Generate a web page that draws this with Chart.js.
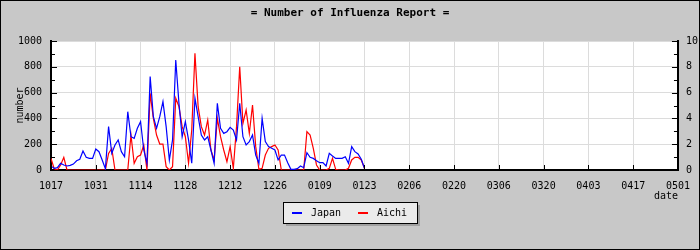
<!DOCTYPE html>
<html>
<head>
<meta charset="utf-8">
<script src="https://cdn.jsdelivr.net/npm/chart.js@4.4.1/dist/chart.umd.min.js"></script>
<style>
  html, body { margin: 0; padding: 0; background: #c8c8c8; }
  #wrap { width: 700px; height: 250px; position: relative; }
</style>
</head>
<body>
<div id="wrap"><canvas id="c" width="700" height="250"></canvas></div>
<script>
const TITLE = '= Number of Influenza Report =';
const tickLabels = ['1017','1031','1114','1128','1212','1226','0109','0123','0206','0220','0306','0320','0403','0417','0501'];
const seriesNames = ['Japan', 'Aichi'];
// daily values starting 10/17
const japan = [30,13,18,52,39,31,36,46,72,83,147,98,90,90,163,142,78,10,336,129,194,233,142,103,452,258,245,323,375,155,52,724,413,323,413,530,336,78,233,853,517,258,375,233,52,556,413,271,233,258,155,52,517,323,284,297,331,310,233,517,258,194,220,271,116,52,400,220,181,168,155,78,116,116,57,5,5,10,31,18,134,98,90,72,57,57,31,129,109,90,90,90,103,52,181,142,124,83,13];
const aichi = [90,10,0,39,98,0,0,0,0,0,0,0,0,0,0,0,0,0,129,168,0,0,0,0,0,271,52,103,116,194,0,594,400,271,201,201,26,0,26,556,491,336,258,52,310,904,491,336,271,388,155,78,400,258,155,65,181,13,336,801,362,465,284,504,181,5,13,116,168,181,194,155,0,0,0,0,0,0,0,0,297,271,168,39,0,0,0,13,90,5,0,0,0,13,78,98,98,78,13];
const leftMax = 1000, leftStep = 200, leftMinor = 100;
const rightMax = 10, rightStep = 2, rightMinor = 1;
const dayMax = 196, dayStep = 14;
const colors = ['#0000ff', '#ff0000'];
const FONT = '"DejaVu Sans Mono", monospace';

const decor = {
  id: 'decor',
  beforeDraw(chart) {
    const ctx = chart.ctx;
    ctx.save();
    ctx.fillStyle = '#c8c8c8';
    ctx.fillRect(0, 0, chart.width, chart.height);
    const a = chart.chartArea;
    ctx.fillStyle = '#ffffff';
    ctx.fillRect(a.left, a.top, a.right - a.left, a.bottom - a.top);
    ctx.restore();
  },
  afterDraw(chart) {
    const ctx = chart.ctx;
    const a = chart.chartArea;
    const y = chart.scales.y, y2 = chart.scales.y2, x = chart.scales.x;
    ctx.save();
    ctx.strokeStyle = '#000';
    ctx.lineWidth = 1;
    ctx.beginPath();
    for (let v = 0; v <= leftMax; v += leftMinor) {
      const p = Math.round(y.getPixelForValue(v)) + 0.5;
      const len = (v % leftStep === 0) ? 6 : 4;
      ctx.moveTo(a.left, p); ctx.lineTo(a.left + len, p);
    }
    for (let v = 0; v <= rightMax; v += rightMinor) {
      const p = Math.round(y2.getPixelForValue(v)) + 0.5;
      const len = (v % rightStep === 0) ? 6 : 4;
      ctx.moveTo(a.right, p); ctx.lineTo(a.right - len, p);
    }
    for (let d = 0; d <= dayMax; d += dayStep) {
      const p = Math.round(x.getPixelForValue(d)) + 0.5;
      ctx.moveTo(p, a.bottom); ctx.lineTo(p, a.bottom - 5);
    }
    ctx.stroke();

    // title
    ctx.fillStyle = '#000';
    ctx.font = 'bold 11px ' + FONT;
    ctx.textAlign = 'center';
    ctx.textBaseline = 'middle';
    ctx.fillText(TITLE, 350, 13);

    // legend
    const lx = 283, ly = 202, lw = 134, lh = 21;
    ctx.fillStyle = '#a0a0a0';
    ctx.fillRect(lx + 3, ly + 3, lw, lh);
    ctx.fillStyle = '#ebebeb';
    ctx.fillRect(lx, ly, lw, lh);
    ctx.strokeStyle = '#000';
    ctx.strokeRect(lx + 0.5, ly + 0.5, lw, lh);
    ctx.font = '10px ' + FONT;
    ctx.textAlign = 'left';
    const items = [[292, 311], [358, 377]];
    chart.data.datasets.forEach((ds, i) => {
      ctx.strokeStyle = ds.borderColor;
      ctx.lineWidth = 2;
      ctx.beginPath();
      ctx.moveTo(items[i][0], ly + 11); ctx.lineTo(items[i][0] + 10, ly + 11);
      ctx.stroke();
      ctx.fillStyle = '#000';
      ctx.fillText(ds.label, items[i][1], ly + 11);
    });

    // outer border
    ctx.strokeStyle = '#000';
    ctx.lineWidth = 1;
    ctx.strokeRect(0.5, 0.5, chart.width - 1, chart.height - 1);
    ctx.restore();
  }
};

new Chart(document.getElementById('c'), {
  type: 'line',
  data: {
    datasets: [
      { label: seriesNames[0], data: japan.map((v, i) => ({x: i, y: v})), borderColor: colors[0], borderWidth: 1.2, pointRadius: 0, tension: 0, fill: false, yAxisID: 'y' },
      { label: seriesNames[1], data: aichi.map((v, i) => ({x: i, y: v})), borderColor: colors[1], borderWidth: 1.2, pointRadius: 0, tension: 0, fill: false, yAxisID: 'y' }
    ]
  },
  options: {
    responsive: false,
    animation: false,
    devicePixelRatio: 1,
    layout: { padding: { top: 41, bottom: 50, left: 0, right: 0 } },
    plugins: { legend: { display: false }, title: { display: false }, tooltip: { enabled: false } },
    scales: {
      x: {
        type: 'linear', min: 0, max: dayMax,
        afterFit(s) { s.height = 30; },
        afterBuildTicks(s) { s.ticks = tickLabels.map((t, i) => ({ value: i * dayStep })); },
        ticks: { autoSkip: false, maxRotation: 0, padding: 10, color: '#000', font: { family: FONT, size: 10 },
          callback: (v) => tickLabels[Math.round(v / dayStep)] },
        grid: { color: '#dcdcdc', drawTicks: false },
        border: { display: true, color: '#000', width: 2 },
        title: { display: true, text: 'date', align: 'end', color: '#000', font: { family: FONT, size: 10 }, padding: { top: 0, bottom: -2 } }
      },
      y: {
        position: 'left', min: 0, max: leftMax,
        afterFit(s) { s.width = 51; },
        ticks: { stepSize: leftStep, padding: 9, color: '#000', font: { family: FONT, size: 10 }, callback: (v) => String(v) },
        grid: { color: '#dcdcdc', drawTicks: false },
        border: { display: true, color: '#000', width: 2 },
        title: { display: true, text: 'number', color: '#000', font: { family: FONT, size: 10 }, padding: { top: 14, bottom: 0 } }
      },
      y2: {
        position: 'right', min: 0, max: rightMax,
        afterFit(s) { s.width = 21; },
        ticks: { stepSize: rightStep, padding: 8, color: '#000', font: { family: FONT, size: 10 }, callback: (v) => String(v) },
        grid: { display: false, drawTicks: false },
        border: { display: true, color: '#000', width: 2 }
      }
    }
  },
  plugins: [decor]
});
</script>
</body>
</html>
